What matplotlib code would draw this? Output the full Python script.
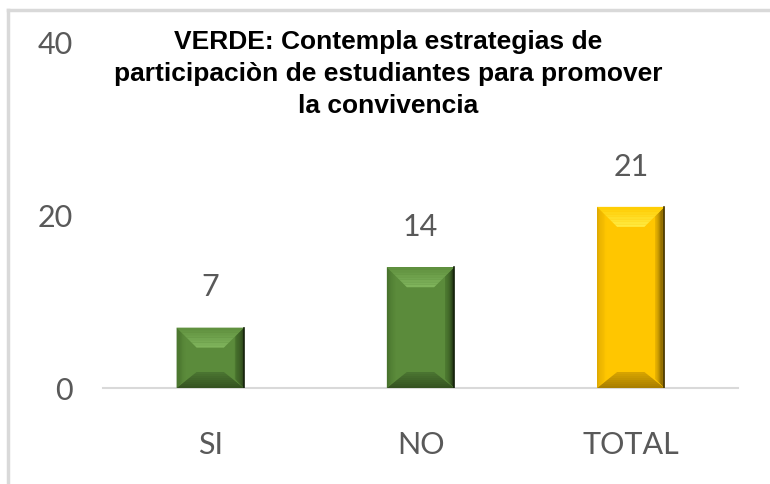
import numpy as np
import matplotlib
matplotlib.use('Agg')
import matplotlib.pyplot as plt
import matplotlib.colors as mcolors
from matplotlib.patches import Polygon
from matplotlib.lines import Line2D

# chart data
categories = ['SI', 'NO', 'TOTAL']
values = [7, 14, 21]
y_ticks = [0, 20, 40]
title = 'VERDE: Contempla estrategias de\nparticipaciòn de estudiantes para promover\nla convivencia'

GREEN = '#5B8B3B'
GOLD = '#FFC600'
bar_colors = [GREEN, GREEN, GOLD]

# bevel shades (outer -> inner) for top, bottom, left, right, plus edge line
shades = {
    GREEN: {'top': ('#5E8F3D', '#82B65E'), 'bot': ('#33511F', '#4C7632'),
            'left': ('#46702B', '#5B8B3B'), 'right': ('#1E3011', '#4E7C31'),
            'edge': '#15220C'},
    GOLD: {'top': ('#FFCC00', '#FFEC45'), 'bot': ('#A67C00', '#D9A600'),
           'left': ('#D9A400', '#FFC600'), 'right': ('#6E5200', '#E0AC00'),
           'edge': '#4A3800'},
}

W, H = 770, 484
AX_L, AX_R, AX_B, AX_T = 103, 738, 388, 43
XMIN, XMAX, YMAX = -0.51, 2.51, 40
BEVEL_PX = 20
SIDE_FRAC = 0.45
TEXT_GRAY = '#595959'
NBANDS = 8


def blend(c0, c1, t):
    a = np.array(mcolors.to_rgb(c0))
    b = np.array(mcolors.to_rgb(c1))
    return tuple(a + (b - a) * t)


fig = plt.figure(figsize=(W / 100, H / 100), dpi=100)
ax = fig.add_axes([AX_L / W, (H - AX_B) / H, (AX_R - AX_L) / W, (AX_B - AX_T) / H])

x = np.arange(len(categories))
bars = ax.bar(x, values, width=0.32, color=bar_colors, zorder=2)
ax.set_xlim(XMIN, XMAX)
ax.set_ylim(0, YMAX)

# bevel overlay, built from each bar's own geometry
dx = BEVEL_PX * (XMAX - XMIN) / (AX_R - AX_L)
dy = BEVEL_PX * YMAX / (AX_B - AX_T)
for rect, col in zip(bars, bar_colors):
    x0, w, h = rect.get_x(), rect.get_width(), rect.get_height()
    x1 = x0 + w
    sh = shades[col]
    sdx, sdy = dx * SIDE_FRAC, dy * SIDE_FRAC
    for i in range(NBANDS):
        t0, t1 = i / NBANDS, (i + 1) / NBANDS
        tm = (t0 + t1) / 2
        # sides first, top/bottom drawn over them
        ax.add_patch(Polygon([(x0 + sdx * t0, sdy * t0), (x0 + sdx * t1, sdy * t1),
                              (x0 + sdx * t1, h - sdy * t1), (x0 + sdx * t0, h - sdy * t0)],
                             closed=True, color=blend(*sh['left'], tm), lw=0, zorder=3))
        ax.add_patch(Polygon([(x1 - sdx * t0, sdy * t0), (x1 - sdx * t1, sdy * t1),
                              (x1 - sdx * t1, h - sdy * t1), (x1 - sdx * t0, h - sdy * t0)],
                             closed=True, color=blend(*sh['right'], tm), lw=0, zorder=3))
    for i in range(NBANDS):
        t0, t1 = i / NBANDS, (i + 1) / NBANDS
        tm = (t0 + t1) / 2
        ax.add_patch(Polygon([(x0 + dx * t0, h - dy * t0), (x1 - dx * t0, h - dy * t0),
                              (x1 - dx * t1, h - dy * t1), (x0 + dx * t1, h - dy * t1)],
                             closed=True, color=blend(*sh['top'], tm), lw=0, zorder=4))
        ax.add_patch(Polygon([(x0 + dx * t0, dy * t0 * 0.8), (x1 - dx * t0, dy * t0 * 0.8),
                              (x1 - dx * t1, dy * t1 * 0.8), (x0 + dx * t1, dy * t1 * 0.8)],
                             closed=True, color=blend(*sh['bot'], tm), lw=0, zorder=4))
    ax.plot([x1, x1], [0, h], color=sh['edge'], lw=1.2, zorder=5)
    ax.annotate(str(int(h)), (rect.get_x() + w / 2, h), xytext=(0, 22.5),
                textcoords='offset points', ha='center', va='baseline',
                fontsize=22, color=TEXT_GRAY, family='Lato')

ax.set_xticks(x)
ax.set_xticklabels(categories)
ax.set_yticks(y_ticks)
ax.tick_params(axis='x', length=0, pad=31, labelsize=22, labelcolor=TEXT_GRAY)
ax.tick_params(axis='y', length=0, pad=22, labelsize=22, labelcolor=TEXT_GRAY)
for lab in ax.get_xticklabels() + ax.get_yticklabels():
    lab.set_family('Lato')
for s in ['top', 'right', 'left']:
    ax.spines[s].set_visible(False)
ax.spines['bottom'].set_color('#D9D9D9')
ax.spines['bottom'].set_linewidth(1.5)
ax.spines['bottom'].set_zorder(1)

fig.text(388 / W, 1 - 30 / H, title, ha='center', va='top', ma='center',
         fontsize=19, fontweight='bold', family='Liberation Sans',
         linespacing=1.42, color='black')

# chart area frame (only top and left show in the crop)
fig.add_artist(Line2D([8 / W, 8 / W], [0, 1 - 10 / H], color='#D9D9D9', lw=2.5,
                      transform=fig.transFigure))
fig.add_artist(Line2D([8 / W, 1], [1 - 10 / H, 1 - 10 / H], color='#D9D9D9', lw=2.5,
                      transform=fig.transFigure))

fig.savefig('out.png', dpi=100)
